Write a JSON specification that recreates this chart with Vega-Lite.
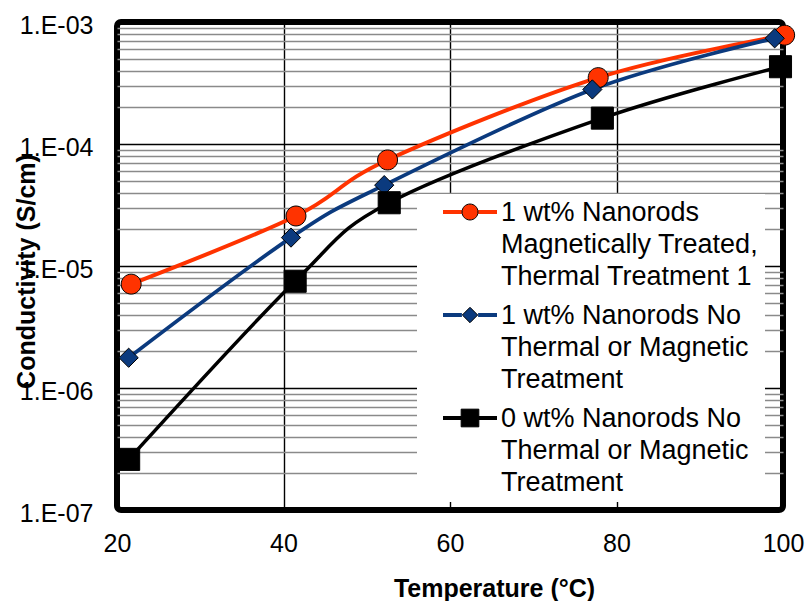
{
  "$schema": "https://vega.github.io/schema/vega-lite/v6.json",
  "width": 666,
  "height": 488,
  "autosize": {"type": "none"},
  "padding": {"left": 117, "top": 22, "right": 23, "bottom": 91},
  "background": "white",
  "config": {
    "view": {"stroke": "black", "strokeWidth": 6, "cornerRadius": 4},
    "font": "Liberation Sans"
  },
  "data": {
    "values": [
      {"series": "1 wt% Nanorods Magnetically Treated, Thermal Treatment 1", "marker": "1 wt% Nanorods Magnetically Treated, Thermal Treatment 1", "T": 21.7, "sigma": 7.1e-6},
      {"series": "1 wt% Nanorods Magnetically Treated, Thermal Treatment 1", "marker": "1 wt% Nanorods Magnetically Treated, Thermal Treatment 1", "T": 41.5, "sigma": 2.57e-5},
      {"series": "1 wt% Nanorods Magnetically Treated, Thermal Treatment 1", "marker": "1 wt% Nanorods Magnetically Treated, Thermal Treatment 1", "T": 52.5, "sigma": 7.4e-5},
      {"series": "1 wt% Nanorods Magnetically Treated, Thermal Treatment 1", "marker": "1 wt% Nanorods Magnetically Treated, Thermal Treatment 1", "T": 77.8, "sigma": 3.5e-4},
      {"series": "1 wt% Nanorods Magnetically Treated, Thermal Treatment 1", "marker": "1 wt% Nanorods Magnetically Treated, Thermal Treatment 1", "T": 100.2, "sigma": 7.8e-4},
      {"series": "1 wt% Nanorods No Thermal or Magnetic Treatment", "marker": "1 wt% Nanorods No Thermal or Magnetic Treatment", "T": 21.4, "sigma": 1.77e-6},
      {"series": "1 wt% Nanorods No Thermal or Magnetic Treatment", "marker": "1 wt% Nanorods No Thermal or Magnetic Treatment", "T": 40.9, "sigma": 1.71e-5},
      {"series": "1 wt% Nanorods No Thermal or Magnetic Treatment", "marker": "1 wt% Nanorods No Thermal or Magnetic Treatment", "T": 52.1, "sigma": 4.6e-5},
      {"series": "1 wt% Nanorods No Thermal or Magnetic Treatment", "marker": "1 wt% Nanorods No Thermal or Magnetic Treatment", "T": 77.1, "sigma": 2.8e-4},
      {"series": "1 wt% Nanorods No Thermal or Magnetic Treatment", "marker": "1 wt% Nanorods No Thermal or Magnetic Treatment", "T": 99.0, "sigma": 7.35e-4},
      {"series": "0 wt% Nanorods No Thermal or Magnetic Treatment", "marker": "0 wt% Nanorods No Thermal or Magnetic Treatment", "T": 21.4, "sigma": 2.6e-7},
      {"series": "0 wt% Nanorods No Thermal or Magnetic Treatment", "marker": "0 wt% Nanorods No Thermal or Magnetic Treatment", "T": 41.4, "sigma": 7.5e-6},
      {"series": "0 wt% Nanorods No Thermal or Magnetic Treatment", "marker": "0 wt% Nanorods No Thermal or Magnetic Treatment", "T": 52.7, "sigma": 3.3e-5},
      {"series": "0 wt% Nanorods No Thermal or Magnetic Treatment", "marker": "0 wt% Nanorods No Thermal or Magnetic Treatment", "T": 78.3, "sigma": 1.63e-4},
      {"series": "0 wt% Nanorods No Thermal or Magnetic Treatment", "marker": "0 wt% Nanorods No Thermal or Magnetic Treatment", "T": 99.7, "sigma": 4.3e-4}
    ]
  },
  "encoding": {
    "x": {
      "field": "T",
      "type": "quantitative",
      "scale": {"domain": [20, 100], "nice": false, "zero": false},
      "axis": {
        "values": [20, 40, 60, 80, 100],
        "grid": true,
        "gridColor": "black",
        "gridWidth": 1.4,
        "ticks": false,
        "domain": false,
        "labelFontSize": 25,
        "labelFont": "Liberation Sans",
        "labelColor": "black",
        "labelPadding": 21,
        "labelFlush": false,
        "labelOverlap": false,
        "title": "Temperature (°C)",
        "titleFont": "Liberation Sans",
        "titleFontSize": 25,
        "titleFontWeight": "bold",
        "titleColor": "black",
        "titleX": 377,
        "titleY": 86,
        "titleAlign": "center",
        "titleBaseline": "alphabetic"
      }
    },
    "y": {
      "field": "sigma",
      "type": "quantitative",
      "scale": {"type": "log", "domain": [1e-7, 1e-3], "nice": false},
      "axis": {
        "values": [1e-7, 2e-7, 3e-7, 4e-7, 5e-7, 6e-7, 7e-7, 8e-7, 9e-7,
                   1e-6, 2e-6, 3e-6, 4e-6, 5e-6, 6e-6, 7e-6, 8e-6, 9e-6,
                   1e-5, 2e-5, 3e-5, 4e-5, 5e-5, 6e-5, 7e-5, 8e-5, 9e-5,
                   1e-4, 2e-4, 3e-4, 4e-4, 5e-4, 6e-4, 7e-4, 8e-4, 9e-4, 1e-3],
        "grid": true,
        "gridColor": {"condition": {"test": "abs(log(datum.value)/LN10 - round(log(datum.value)/LN10)) < 1e-6", "value": "black"}, "value": "#8a8a8a"},
        "gridWidth": 1.4,
        "ticks": false,
        "domain": false,
        "labelExpr": "abs(log(datum.value)/LN10 - round(log(datum.value)/LN10)) < 1e-6 ? '1.E-0' + (-round(log(datum.value)/LN10)) : ''",
        "labelFontSize": 25,
        "labelFont": "Liberation Sans",
        "labelColor": "black",
        "labelPadding": 24,
        "labelBaseline": "middle",
        "labelOffset": 3,
        "labelOverlap": false,
        "labelBound": false,
        "labelFlush": false,
        "title": "Conductivity (S/cm)",
        "titleFont": "Liberation Sans",
        "titleFontSize": 25,
        "titleFontWeight": "bold",
        "titleColor": "black",
        "titleAngle": -90,
        "titleX": -91,
        "titleY": 249,
        "titleAlign": "center",
        "titleBaseline": "middle"
      }
    }
  },
  "layer": [
    {
      "mark": {"type": "line", "interpolate": "cardinal"},
      "encoding": {
        "stroke": {
          "field": "series",
          "type": "nominal",
          "sort": ["1 wt% Nanorods Magnetically Treated, Thermal Treatment 1", "1 wt% Nanorods No Thermal or Magnetic Treatment", "0 wt% Nanorods No Thermal or Magnetic Treatment"],
          "scale": {"range": ["#ff3300", "#0b3a7e", "#000000"]},
          "legend": {
            "title": null,
            "orient": "none",
            "legendX": 300,
            "legendY": 172,
            "padding": 6,
            "fillColor": "white",
            "symbolType": "M-1,0H-0.3M0.3,0H1",
            "symbolSize": 2916,
            "symbolStrokeWidth": 4,
            "symbolOffset": 18,
            "labelOffset": 2,
            "labelFont": "Liberation Sans",
            "labelFontSize": 27,
            "labelColor": "black",
            "labelLimit": 500,
            "labelBaseline": "top",
            "rowPadding": 12,
            "labelExpr": "datum.label == '1 wt% Nanorods Magnetically Treated, Thermal Treatment 1' ? ['1 wt% Nanorods', 'Magnetically Treated,', 'Thermal Treatment 1'] : datum.label == '1 wt% Nanorods No Thermal or Magnetic Treatment' ? ['1 wt% Nanorods No', 'Thermal or Magnetic', 'Treatment'] : ['0 wt% Nanorods No', 'Thermal or Magnetic', 'Treatment']",
            "encode": {
              "labels": {"update": {"lineHeight": {"value": 32}, "y": {"value": 12}, "dy": {"value": -12}}},
              "symbols": {"update": {"y": {"value": 12}}}
            }
          }
        },
        "strokeWidth": {
          "field": "series",
          "type": "nominal",
          "sort": ["1 wt% Nanorods Magnetically Treated, Thermal Treatment 1", "1 wt% Nanorods No Thermal or Magnetic Treatment", "0 wt% Nanorods No Thermal or Magnetic Treatment"],
          "scale": {"range": [4, 3.5, 3]},
          "legend": null
        }
      }
    },
    {
      "mark": {"type": "point", "filled": true, "stroke": "black", "strokeWidth": 1, "opacity": 1, "size": 5077},
      "encoding": {
        "fill": {
          "field": "marker",
          "type": "nominal",
          "scale": {
            "domain": ["1 wt% Nanorods Magnetically Treated, Thermal Treatment 1", "1 wt% Nanorods No Thermal or Magnetic Treatment", "0 wt% Nanorods No Thermal or Magnetic Treatment"],
            "range": ["#ff3300", "#0b3a7e", "#000000"]
          },
          "legend": {
            "title": null,
            "orient": "none",
            "legendX": 300,
            "legendY": 172,
            "padding": 6,
            "symbolSize": 3249,
            "symbolStrokeWidth": 1,
            "symbolStrokeColor": "black",
            "symbolOpacity": 1,
            "symbolOffset": 18,
            "labelOffset": 2,
            "labelFont": "Liberation Sans",
            "labelFontSize": 27,
            "labelOpacity": 0,
            "labelLimit": 500,
            "labelBaseline": "top",
            "rowPadding": 12,
            "labelExpr": "datum.label == '1 wt% Nanorods Magnetically Treated, Thermal Treatment 1' ? ['1 wt% Nanorods', 'Magnetically Treated,', 'Thermal Treatment 1'] : datum.label == '1 wt% Nanorods No Thermal or Magnetic Treatment' ? ['1 wt% Nanorods No', 'Thermal or Magnetic', 'Treatment'] : ['0 wt% Nanorods No', 'Thermal or Magnetic', 'Treatment']",
            "encode": {
              "labels": {"update": {"lineHeight": {"value": 32}, "y": {"value": 12}, "dy": {"value": -12}}},
              "symbols": {"update": {"y": {"value": 12}}}
            }
          }
        },
        "shape": {
          "field": "marker",
          "type": "nominal",
          "scale": {
            "domain": ["1 wt% Nanorods Magnetically Treated, Thermal Treatment 1", "1 wt% Nanorods No Thermal or Magnetic Treatment", "0 wt% Nanorods No Thermal or Magnetic Treatment"],
            "range": ["M0.28,0A0.28,0.28,0,1,1,-0.28,0A0.28,0.28,0,1,1,0.28,0Z", "M0,-0.27L0.27,0L0,0.27L-0.27,0Z", "M-0.31,-0.31H0.31V0.31H-0.31Z"]
          },
          "legend": {
            "title": null,
            "orient": "none",
            "legendX": 300,
            "legendY": 172,
            "padding": 6,
            "symbolSize": 3249,
            "symbolStrokeWidth": 1,
            "symbolStrokeColor": "black",
            "symbolOpacity": 1,
            "symbolOffset": 18,
            "labelOffset": 2,
            "labelFont": "Liberation Sans",
            "labelFontSize": 27,
            "labelOpacity": 0,
            "labelLimit": 500,
            "labelBaseline": "top",
            "rowPadding": 12,
            "labelExpr": "datum.label == '1 wt% Nanorods Magnetically Treated, Thermal Treatment 1' ? ['1 wt% Nanorods', 'Magnetically Treated,', 'Thermal Treatment 1'] : datum.label == '1 wt% Nanorods No Thermal or Magnetic Treatment' ? ['1 wt% Nanorods No', 'Thermal or Magnetic', 'Treatment'] : ['0 wt% Nanorods No', 'Thermal or Magnetic', 'Treatment']",
            "encode": {
              "labels": {"update": {"lineHeight": {"value": 32}, "y": {"value": 12}, "dy": {"value": -12}}},
              "symbols": {"update": {"y": {"value": 12}}}
            }
          }
        }
      }
    }
  ]
}
